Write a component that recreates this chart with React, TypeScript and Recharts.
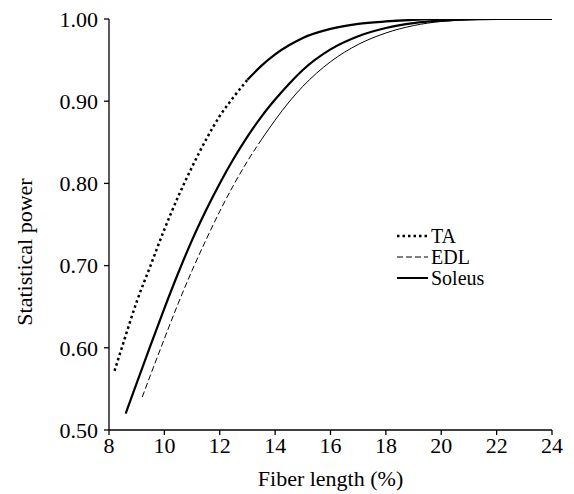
import { LineChart, Line, XAxis, YAxis, Label, Customized } from "recharts";

// fiber length (%) and statistical power
const fiberTA = [8.2, 8.5, 9, 9.5, 10, 10.5, 11, 11.5, 12, 12.5, 13, 13.5, 14, 14.5, 15, 16, 17, 18, 19, 20, 21, 22, 23, 24];
const powerTA = [0.572, 0.604, 0.656, 0.7, 0.744, 0.784, 0.82, 0.853, 0.882, 0.905, 0.926, 0.943, 0.957, 0.968, 0.977, 0.988, 0.994, 0.997, 0.999, 1.0, 1.0, 1.0, 1.0, 1.0];

const fiberEDL = [9.2, 9.5, 10, 10.5, 11, 11.5, 12, 12.5, 13, 13.5, 14, 14.5, 15, 16, 17, 18, 19, 20, 21, 22, 23, 24];
const powerEDL = [0.54, 0.567, 0.611, 0.654, 0.694, 0.731, 0.766, 0.798, 0.827, 0.853, 0.877, 0.899, 0.918, 0.948, 0.969, 0.983, 0.992, 0.997, 0.999, 1.0, 1.0, 1.0];

const fiberSoleus = [8.6, 9, 9.5, 10, 10.5, 11, 11.5, 12, 12.5, 13, 13.5, 14, 14.5, 15, 16, 17, 18, 19, 20, 21, 22, 23, 24];
const powerSoleus = [0.52, 0.557, 0.603, 0.648, 0.691, 0.731, 0.767, 0.8, 0.83, 0.857, 0.881, 0.902, 0.921, 0.938, 0.963, 0.979, 0.989, 0.995, 0.998, 0.9995, 1.0, 1.0, 1.0];

const xTicks = [8, 10, 12, 14, 16, 18, 20, 22, 24];
const yTicks = [0.5, 0.6, 0.7, 0.8, 0.9, 1.0];

const FONT = "Liberation Serif, Times New Roman, serif";
const FS = 22;

const toPoints = (xs: number[], ys: number[]) => xs.map((x, i) => ({ x, y: ys[i] }));

const ta = toPoints(fiberTA, powerTA);
const edl = toPoints(fiberEDL, powerEDL);
const soleus = toPoints(fiberSoleus, powerSoleus);

// the original dashes merge into a solid stroke on the upper part of the curves
const taDotted = ta.filter((p) => p.x <= 13);
const taSolid = ta.filter((p) => p.x >= 13);
const edlDashed = edl.filter((p) => p.x <= 13.5);
const edlSolid = edl.filter((p) => p.x >= 13.5);

const legendItems = [
  { name: "TA", dash: "2.5 3", width: 2.5, y: 236 },
  { name: "EDL", dash: "6 3", width: 1, y: 257 },
  { name: "Soleus", dash: undefined, width: 2, y: 278 },
];

function ChartLegend() {
  return (
    <g>
      {legendItems.map((it) => (
        <g key={it.name}>
          <line x1={397} x2={428} y1={it.y} y2={it.y} stroke="#000" strokeWidth={it.width} strokeDasharray={it.dash} />
          <text x={431} y={it.y} dy="0.35em" style={{ fontSize: 20, fontFamily: FONT, fill: "#000" }}>
            {it.name}
          </text>
        </g>
      ))}
    </g>
  );
}

const tickStyle = { fill: "#000", fontSize: FS, fontFamily: FONT };

export default function App() {
  return (
    <div style={{ position: "absolute", left: 0, top: 0, background: "#fff", fontFamily: FONT }}>
      <LineChart width={574} height={494} margin={{ top: 19, right: 22, bottom: 0, left: 0 }}>
        <XAxis
          type="number"
          dataKey="x"
          domain={[8, 24]}
          ticks={xTicks}
          height={64}
          stroke="#000"
          strokeWidth={1.3}
          tickSize={5}
          tickMargin={2}
          tick={tickStyle}
          allowDataOverflow
        >
          <Label
            value="Fiber length (%)"
            position="insideBottom"
            offset={8}
            style={tickStyle}
          />
        </XAxis>
        <YAxis
          type="number"
          domain={[0.5, 1]}
          ticks={yTicks}
          width={109}
          stroke="#000"
          strokeWidth={1.3}
          tickSize={5}
          tickMargin={6}
          tickFormatter={(v: number) => v.toFixed(2)}
          tick={tickStyle}
          allowDataOverflow
        >
          <Label
            content={() => (
              <text
                x={32}
                y={252}
                transform="rotate(-90, 32, 252)"
                textAnchor="middle"
                style={tickStyle}
              >
                Statistical power
              </text>
            )}
          />
        </YAxis>
        <Line data={taDotted} dataKey="y" type="monotone" stroke="#000" strokeWidth={2.5} strokeDasharray="2.5 3" dot={false} isAnimationActive={false} />
        <Line data={taSolid} dataKey="y" type="monotone" stroke="#000" strokeWidth={2.2} dot={false} isAnimationActive={false} />
        <Line data={edlDashed} dataKey="y" type="monotone" stroke="#000" strokeWidth={1} strokeDasharray="6 3" dot={false} isAnimationActive={false} />
        <Line data={edlSolid} dataKey="y" type="monotone" stroke="#000" strokeWidth={1} dot={false} isAnimationActive={false} />
        <Line data={soleus} dataKey="y" type="monotone" stroke="#000" strokeWidth={2.2} dot={false} isAnimationActive={false} />
        <Customized component={ChartLegend} />
      </LineChart>
    </div>
  );
}
